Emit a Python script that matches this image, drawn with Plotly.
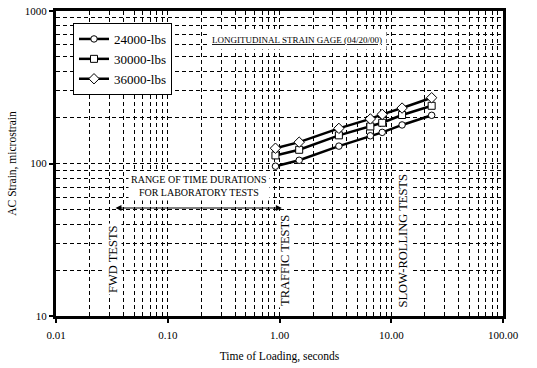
import math
import plotly.graph_objects as go

# ---- data ----
load_time_s = [0.92, 1.5, 3.4, 6.5, 8.3, 12.5, 23.0]
strain_24000 = [96, 105, 130, 152, 160, 179, 207]
strain_30000 = [113, 123, 153, 175, 185, 208, 239]
strain_36000 = [126, 138, 170, 196, 210, 231, 270]
series_names = ["24000-lbs", "30000-lbs", "36000-lbs"]

x_tickvals = [0.01, 0.1, 1, 10, 100]
x_ticktext = ["0.01", "0.10", "1.00", "10.00", "100.00"]
y_tickvals = [10, 100, 1000]
y_ticktext = ["10", "100", "1000"]

lab_range_s = [0.033, 1.05]  # range of time durations arrow

FONT = "Liberation Serif"

fig = go.Figure()
symbols = ["circle", "square", "diamond"]
sizes = [6.5, 7, 8]
for name, vals, sym, sz in zip(series_names, [strain_24000, strain_30000, strain_36000], symbols, sizes):
    fig.add_trace(go.Scatter(
        x=load_time_s, y=vals, name=name, mode="lines+markers",
        line=dict(color="black", width=2.5),
        marker=dict(symbol=sym, size=sz, color="white",
                    line=dict(color="black", width=1)),
    ))

minor_x = [m * 10 ** e for e in range(-2, 2) for m in range(2, 10)]
minor_y = [m * 10 ** e for e in range(1, 3) for m in range(2, 10)]
dash = "4px,3px"

fig.update_xaxes(
    type="log", range=[-2, 2], tickvals=x_tickvals, ticktext=x_ticktext,
    showgrid=True, gridcolor="black", gridwidth=1, griddash=dash,
    minor=dict(tickvals=minor_x, showgrid=True, gridcolor="black", gridwidth=1, griddash=dash, ticks=""),
    showline=True, linecolor="black", linewidth=3, mirror=True,
    ticks="outside", ticklen=4, tickwidth=1.5, tickcolor="black",
    ticklabelstandoff=3, ticklabeloverflow="allow",
    tickfont=dict(family=FONT, size=11, color="black"),
    title=dict(text="Time of Loading, seconds", font=dict(family=FONT, size=11.5, color="black"), standoff=12),
    zeroline=False,
)
fig.update_yaxes(
    type="log", range=[1, 3], tickvals=y_tickvals, ticktext=y_ticktext,
    showgrid=True, gridcolor="black", gridwidth=1, griddash=dash,
    minor=dict(tickvals=minor_y, showgrid=True, gridcolor="black", gridwidth=1, griddash=dash, ticks=""),
    showline=True, linecolor="black", linewidth=3, mirror=True,
    ticks="outside", ticklen=4, tickwidth=1.5, tickcolor="black",
    ticklabeloverflow="allow",
    tickfont=dict(family=FONT, size=11, color="black"),
    title=dict(text="AC Strain, microstrain", font=dict(family=FONT, size=11.5, color="black"), standoff=6),
    zeroline=False,
)

# plot area at page x 56..503, y 11..316 (body margin removed via post_script)
W, H = 537, 368
L, T = 56, 11
pw, ph = 447, 305
R, B = W - L - pw, H - T - ph

def px(xp):
    return (xp - L) / pw

def py(yp):
    return (T + ph - yp) / ph

ann = []
ann.append(dict(text="LONGITUDINAL STRAIN GAGE (04/20/00)", xref="paper", yref="paper",
                x=px(207), y=py(40), xanchor="left", yanchor="middle", showarrow=False,
                bgcolor="white", borderpad=4,
                font=dict(family=FONT, size=9, color="black", lineposition="under")))
ann.append(dict(text="RANGE OF TIME DURATIONS<br>FOR LABORATORY TESTS", xref="paper", yref="paper",
                x=px(199), y=py(186), xanchor="center", yanchor="middle", showarrow=False,
                bgcolor="white", borderpad=2,
                font=dict(family=FONT, size=10, color="black")))
for txt, xc, yc in [("FWD TESTS", 113, 259), ("TRAFFIC TESTS", 285, 261), ("SLOW-ROLLING TESTS", 402, 241.5)]:
    ann.append(dict(text=txt, xref="paper", yref="paper", x=px(xc), y=py(yc),
                    xanchor="center", yanchor="middle", showarrow=False, textangle=-90,
                    bgcolor="white", borderpad=1,
                    font=dict(family=FONT, size=12.5, color="black")))
ann.append(dict(text="", x=math.log10(lab_range_s[1]), y=py(208), xref="x", yref="paper",
                ax=math.log10(lab_range_s[0]), ay=0, axref="x", ayref="pixel",
                showarrow=True, arrowhead=2, arrowsize=1, arrowwidth=1.2, arrowside="end+start",
                arrowcolor="black", standoff=0, startstandoff=0, startarrowhead=2))

fig.update_layout(
    width=W, height=H, margin=dict(l=L, r=R, t=T, b=B, autoexpand=False),
    paper_bgcolor="white", plot_bgcolor="white",
    showlegend=True,
    legend=dict(x=px(73), y=py(23), xanchor="left", yanchor="top",
                bgcolor="white", bordercolor="black", borderwidth=1,
                font=dict(family=FONT, size=13, color="black"),
                itemwidth=30, tracegroupgap=0),
    annotations=ann,
)

fig.write_html("out.html", config={"displayModeBar": False},
               post_script="document.body.style.margin='0';document.body.style.overflow='hidden';")
